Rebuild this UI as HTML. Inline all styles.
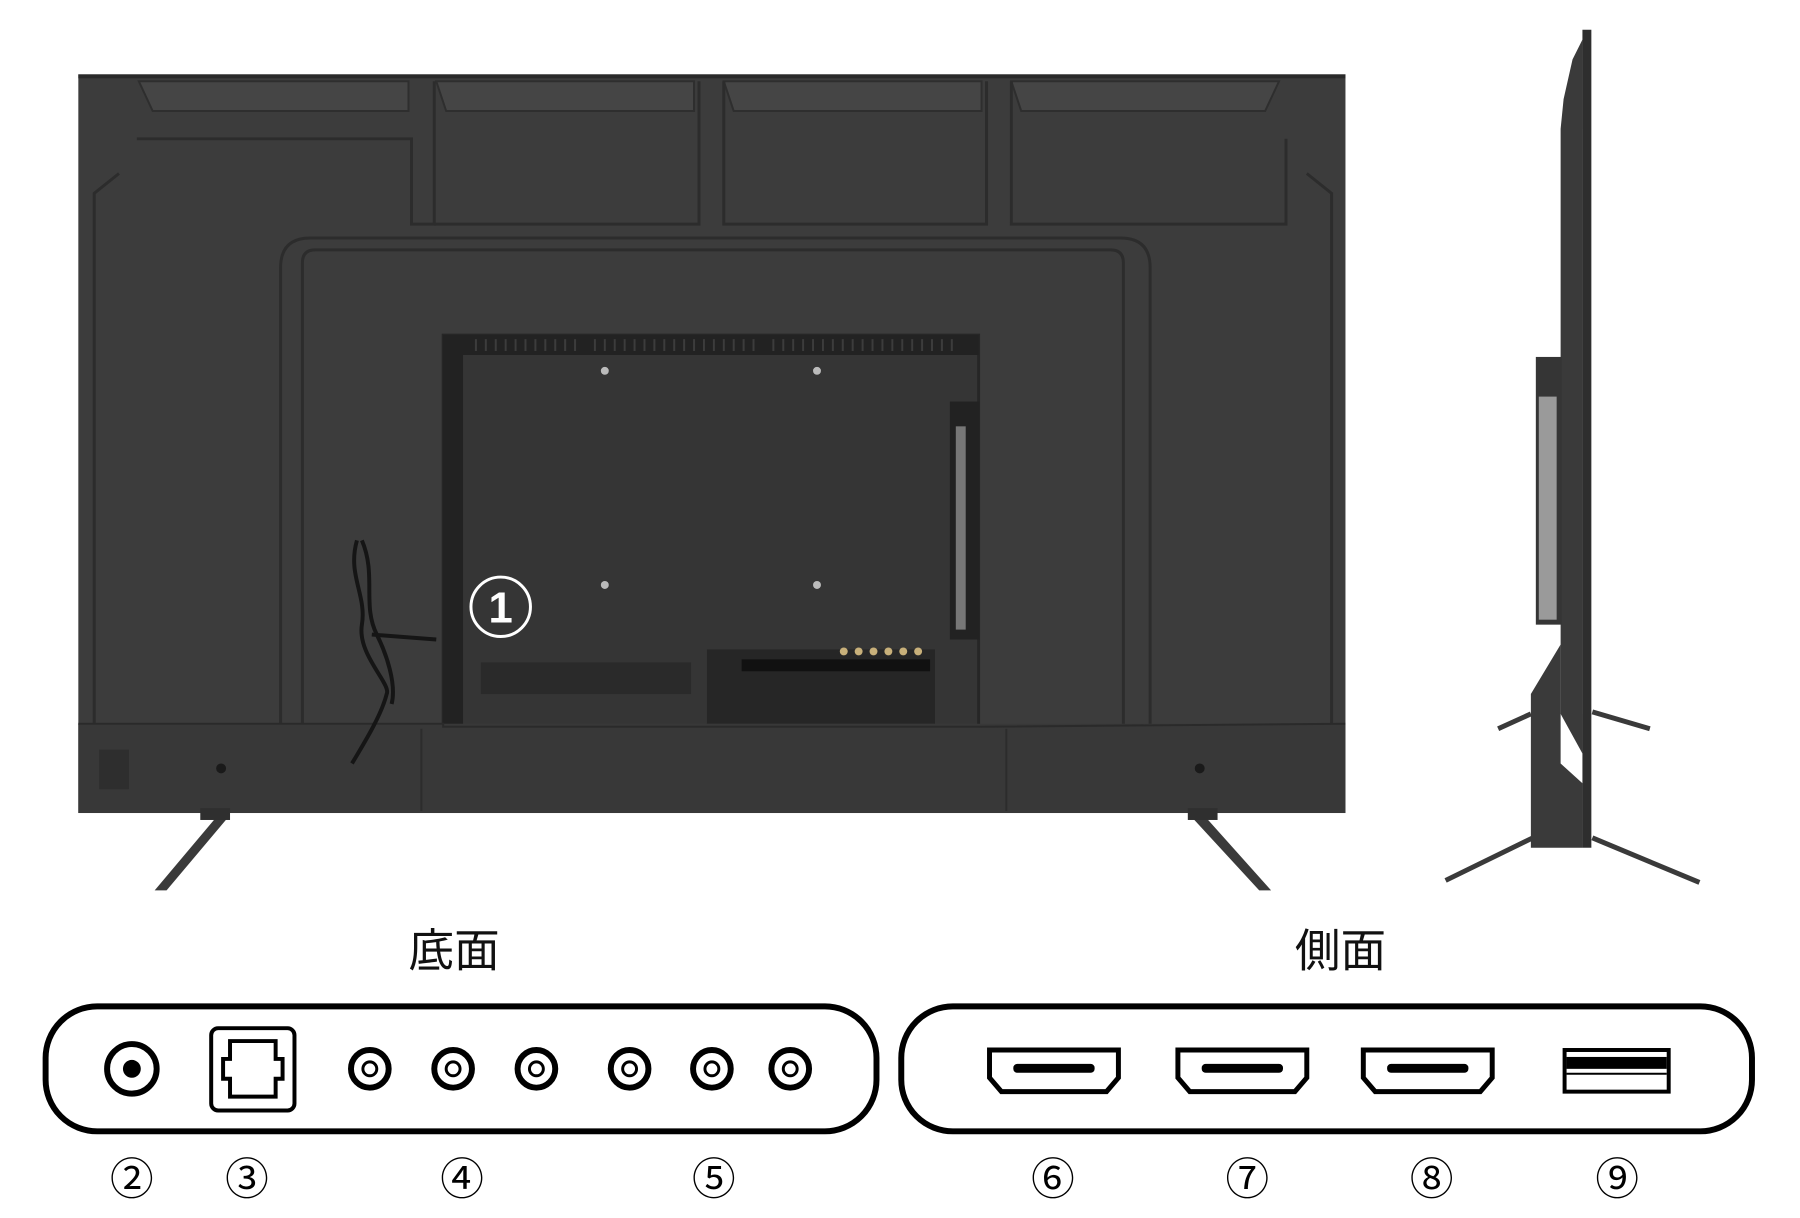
<!DOCTYPE html>
<html><head><meta charset="utf-8"><style>
html,body{margin:0;padding:0;background:#fff;}
body{width:1800px;height:1218px;overflow:hidden;position:relative;font-family:"Liberation Sans","Noto Sans CJK JP",sans-serif;}
svg{position:absolute;left:0;top:0;}
</style></head><body>
<svg width="1800" height="1218" viewBox="0 0 1800 1218" xmlns="http://www.w3.org/2000/svg">
<g transform="scale(0.9915)">
<rect x="79" y="75" width="1278" height="745" fill="#3c3c3c"/>
<rect x="79" y="75" width="1278" height="4" fill="#2a2a2a"/>
<g fill="#454545" stroke="#2e2e2e" stroke-width="2">
<path d="M140 82 L412 82 L412 112 L154 112 Z"/>
<path d="M440 82 L700 82 L700 112 L450 112 Z"/>
<path d="M730 82 L990 82 L990 112 L740 112 Z"/>
<path d="M1020 82 L1290 82 L1276 112 L1030 112 Z"/>
</g>
<g fill="none" stroke="#2c2c2c" stroke-width="3">
<path d="M138 140 L415 140 L415 226 L438 226 L438 82"/>
<path d="M438 226 L705 226 L705 82"/>
<path d="M730 82 L730 226 L995 226 L995 82"/>
<path d="M1020 82 L1020 226 L1297 226 L1297 140"/>
<path d="M283 765 L283 270 Q283 240 313 240 L1130 240 Q1160 240 1160 270 L1160 765"/>
<path d="M305 765 L305 265 Q305 252 318 252 L1120 252 Q1133 252 1133 265 L1133 765"/>
<path d="M120 175 L95 195 L95 780"/>
<path d="M1318 175 L1343 195 L1343 780"/>
</g>
<rect x="447" y="338" width="540" height="395" fill="#353535" stroke="#262626" stroke-width="3"/>
<rect x="447" y="338" width="540" height="20" fill="#222"/>
<rect x="447" y="338" width="20" height="395" fill="#222"/>
<g stroke="#3c3c3c" stroke-width="2">
<path d="M480 342 V354 M490 342 V354 M500 342 V354 M510 342 V354 M520 342 V354 M530 342 V354 M540 342 V354 M550 342 V354 M560 342 V354 M570 342 V354 M580 342 V354 M600 342 V354 M610 342 V354 M620 342 V354 M630 342 V354 M640 342 V354 M650 342 V354 M660 342 V354 M670 342 V354 M680 342 V354 M690 342 V354 M700 342 V354 M710 342 V354 M720 342 V354 M730 342 V354 M740 342 V354 M750 342 V354 M760 342 V354 M780 342 V354 M790 342 V354 M800 342 V354 M810 342 V354 M820 342 V354 M830 342 V354 M840 342 V354 M850 342 V354 M860 342 V354 M870 342 V354 M880 342 V354 M890 342 V354 M900 342 V354 M910 342 V354 M920 342 V354 M930 342 V354 M940 342 V354 M950 342 V354 M960 342 V354"/>
</g>
<rect x="485" y="668" width="212" height="32" fill="#2a2a2a"/>
<rect x="958" y="405" width="30" height="240" fill="#222"/>
<rect x="964" y="430" width="10" height="205" fill="#777"/>
<rect x="713" y="655" width="230" height="75" fill="#262626"/>
<rect x="748" y="665" width="190" height="12" fill="#111"/>
<g fill="#c8b07a"><circle cx="851" cy="657" r="4"/><circle cx="866" cy="657" r="4"/><circle cx="881" cy="657" r="4"/><circle cx="896" cy="657" r="4"/><circle cx="911" cy="657" r="4"/><circle cx="926" cy="657" r="4"/></g>
<g fill="#bbb"><circle cx="610" cy="374" r="4"/><circle cx="824" cy="374" r="4"/><circle cx="610" cy="590" r="4"/><circle cx="824" cy="590" r="4"/></g>
<path d="M79 730 L1357 730 L1357 820 L79 820 Z" fill="#383838"/>
<path d="M79 730 L447 730 L447 733 L987 733 L1357 730" fill="none" stroke="#2a2a2a" stroke-width="2"/>
<path d="M425 735 V818 M1015 735 V818" stroke="#2c2c2c" stroke-width="2"/>
<rect x="100" y="756" width="30" height="40" fill="#2e2e2e"/>
<g fill="#1a1a1a"><circle cx="223" cy="775" r="5"/><circle cx="1210" cy="775" r="5"/></g>
<path d="M360 545 C350 580 370 600 365 630 C360 660 395 690 390 700 C385 720 370 745 355 770 M365 545 C380 580 365 610 380 640 C390 660 400 690 395 710 M375 640 L440 645" fill="none" stroke="#151515" stroke-width="4"/>
<circle cx="505" cy="612" r="30" fill="none" stroke="#fff" stroke-width="3"/>
<text x="505" y="628" font-size="44" font-weight="bold" fill="#fff" text-anchor="middle" font-family="Liberation Sans, sans-serif">1</text>
<path d="M220 822 L232 822 L168 898 L156 898 Z" fill="#3a3a3a"/>
<path d="M1200 822 L1214 822 L1282 898 L1270 898 Z" fill="#3a3a3a"/>
<rect x="202" y="815" width="30" height="12" fill="#2f2f2f"/>
<rect x="1198" y="815" width="30" height="12" fill="#2f2f2f"/>
<g transform="translate(14,0)">
<rect x="1582" y="30" width="9" height="825" fill="#2e2e2e"/>
<path d="M1582 40 L1572 60 L1563 100 L1560 130 L1560 720 L1582 760 Z" fill="#3a3a3a"/>
<rect x="1535" y="360" width="26" height="270" fill="#353535"/>
<rect x="1538" y="400" width="18" height="225" fill="#9a9a9a"/>
<path d="M1530 700 L1560 650 L1560 770 L1582 790 L1582 855 L1530 855 Z" fill="#3a3a3a"/>
<g stroke="#3a3a3a" stroke-width="5">
<line x1="1530" y1="720" x2="1497" y2="735"/>
<line x1="1592" y1="718" x2="1650" y2="735"/>
<line x1="1532" y1="845" x2="1444" y2="888"/>
<line x1="1592" y1="845" x2="1700" y2="890"/>
</g>
</g>
<text x="458" y="975" font-size="46" text-anchor="middle" fill="#111" font-family="Liberation Sans, Noto Sans CJK JP, sans-serif">底面</text>
<text x="1352" y="975" font-size="46" text-anchor="middle" fill="#111" font-family="Liberation Sans, Noto Sans CJK JP, sans-serif">側面</text>
<rect x="46" y="1015" width="838" height="126" rx="52" fill="none" stroke="#000" stroke-width="6"/>
<rect x="909" y="1015" width="858" height="126" rx="52" fill="none" stroke="#000" stroke-width="6"/>
<circle cx="133" cy="1078" r="25" fill="none" stroke="#000" stroke-width="6"/>
<circle cx="133" cy="1078" r="9" fill="#000"/>
<rect x="213" y="1037" width="84" height="83" rx="7" fill="none" stroke="#000" stroke-width="4"/>
<path d="M232 1050 H278 V1068 H285 V1088 H278 V1106 H232 V1088 H225 V1068 H232 Z" fill="none" stroke="#000" stroke-width="4"/>
<g fill="none" stroke="#000">
<g stroke-width="6"><circle cx="373" cy="1078" r="19"/><circle cx="457" cy="1078" r="19"/><circle cx="541" cy="1078" r="19"/><circle cx="635" cy="1078" r="19"/><circle cx="718" cy="1078" r="19"/><circle cx="797" cy="1078" r="19"/></g>
<g stroke-width="3"><circle cx="373" cy="1078" r="7"/><circle cx="457" cy="1078" r="7"/><circle cx="541" cy="1078" r="7"/><circle cx="635" cy="1078" r="7"/><circle cx="718" cy="1078" r="7"/><circle cx="797" cy="1078" r="7"/></g>
</g>
<g fill="none" stroke="#000" stroke-width="5">
<path d="M998 1059 H1128 V1087 L1116 1101 H1010 L998 1087 Z"/>
<path d="M1188 1059 H1318 V1087 L1306 1101 H1200 L1188 1087 Z"/>
<path d="M1375 1059 H1505 V1087 L1493 1101 H1387 L1375 1087 Z"/>
</g>
<g fill="#000"><rect x="1022" y="1073" width="82" height="9" rx="4"/><rect x="1212" y="1073" width="82" height="9" rx="4"/><rect x="1399" y="1073" width="82" height="9" rx="4"/></g>
<rect x="1578" y="1059" width="105" height="42" fill="none" stroke="#000" stroke-width="4"/>
<rect x="1580" y="1066" width="101" height="12" fill="#000"/>
<line x1="1580" y1="1083" x2="1681" y2="1083" stroke="#000" stroke-width="2"/>
<g font-size="44" text-anchor="middle" fill="#000" font-family="Liberation Sans, Noto Sans CJK JP, sans-serif">
<text x="133" y="1205">②</text><text x="249" y="1205">③</text><text x="466" y="1205">④</text><text x="720" y="1205">⑤</text>
<text x="1062" y="1205">⑥</text><text x="1258" y="1205">⑦</text><text x="1444" y="1205">⑧</text><text x="1631" y="1205">⑨</text>
</g>
</g>
</svg>
</body></html>
